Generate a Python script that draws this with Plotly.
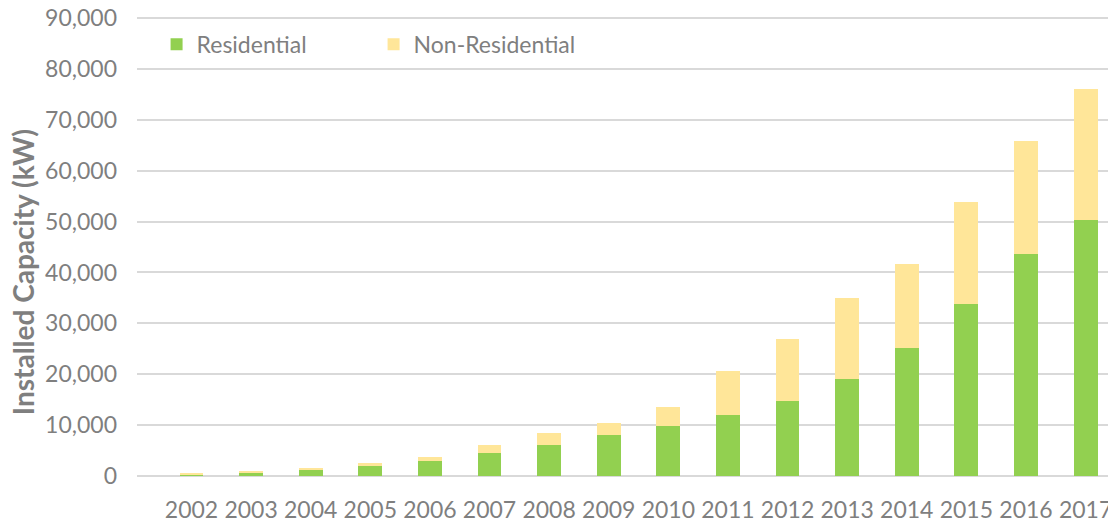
import plotly.graph_objects as go

years = [str(y) for y in range(2002, 2018)]
residential = [350, 600, 1300, 1900, 2900, 4600, 6150, 8050, 9820, 12000, 14700, 19000, 25100, 33900, 43700, 50300]
total = [400, 850, 1600, 2500, 3800, 6100, 8400, 10400, 13600, 20600, 26900, 34900, 41700, 53900, 65900, 76000]
non_residential = [t - r for t, r in zip(total, residential)]
y_ticks = list(range(0, 90001, 10000))

FONT = "Lato"
GRAY = "#7f7f7f"

fig = go.Figure()
fig.add_trace(go.Bar(x=list(range(len(years))), y=residential, name="Residential",
                     marker=dict(color="#92d050", line=dict(width=0))))
fig.add_trace(go.Bar(x=list(range(len(years))), y=non_residential, name="Non-Residential",
                     marker=dict(color="#ffe699", line=dict(width=0))))

# page body has an 8px default margin, so the figure is sized/offset to compensate
fig.update_layout(
    barmode="stack",
    bargap=0.6,
    width=1108, height=517,
    margin=dict(l=129, r=0, t=8, b=49, autoexpand=False),
    paper_bgcolor="white", plot_bgcolor="white",
    font=dict(family=FONT, color=GRAY, size=23),
    showlegend=True,
    legend=dict(orientation="h", x=0.02, y=0.985, xanchor="left", yanchor="top",
                traceorder="normal", entrywidth=172, entrywidthmode="pixels",
                font=dict(size=23, color=GRAY), bgcolor="rgba(0,0,0,0)",
                itemwidth=30, tracegroupgap=0),
    xaxis=dict(tickmode="array", tickvals=list(range(len(years))), ticktext=years,
               range=[-0.914, 15.51], showgrid=False, zeroline=False, showline=False,
               automargin=False, ticklabeloverflow="allow",
               ticks="", tickfont=dict(size=23, color=GRAY), ticklabelstandoff=18),
    yaxis=dict(range=[0, 90400], tickvals=y_ticks, ticktext=[f"{v:,}" for v in y_ticks],
               showgrid=True, gridcolor="#d9d9d9", gridwidth=1.5, zeroline=True,
               automargin=False, ticklabeloverflow="allow",
               zerolinecolor="#d9d9d9", zerolinewidth=1.5, showline=False, ticks="",
               tickfont=dict(size=23, color=GRAY), ticklabelstandoff=19),
    annotations=[dict(text="<b>Installed Capacity (kW)</b>", textangle=-90,
                      xref="paper", yref="paper", x=-0.1165, y=0.443,
                      xanchor="center", yanchor="middle", showarrow=False,
                      font=dict(size=28, color=GRAY, family=FONT))],
)

fig.write_html("out.html")
